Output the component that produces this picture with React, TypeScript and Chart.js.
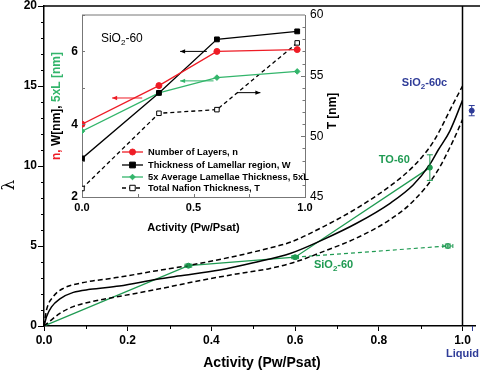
import React, { useEffect, useRef } from "react";
import { Chart, registerables } from "chart.js";

Chart.register(...registerables);

const FONT = "'Liberation Sans', Arial, Helvetica, sans-serif";

// ---------------- main chart: λ vs activity ----------------
const ACT_MEAN = [0, 0.006, 0.018, 0.038, 0.07, 0.11, 0.18, 0.27, 0.32, 0.42, 0.5, 0.59, 0.667, 0.747, 0.827, 0.882, 0.922, 0.942, 0.97, 1.0];
const LAMBDA_MEAN = [0, 0.58, 1.2, 1.7, 2.1, 2.29, 2.5, 2.92, 3.12, 3.5, 3.95, 4.55, 5.4, 6.42, 7.67, 8.81, 10.1, 11.0, 12.2, 14.1];

const ACT_UPPER = [0, 0.006, 0.022, 0.046, 0.086, 0.18, 0.27, 0.32, 0.38, 0.46, 0.54, 0.59, 0.667, 0.747, 0.827, 0.882, 0.93, 0.978, 1.0];
const LAMBDA_UPPER = [0, 1.0, 1.83, 2.35, 2.67, 3.05, 3.46, 3.67, 3.95, 4.38, 4.88, 5.25, 6.2, 7.35, 8.75, 9.96, 11.5, 13.9, 15.0];

const ACT_LOWER = [0, 0.014, 0.038, 0.07, 0.11, 0.19, 0.27, 0.32, 0.38, 0.46, 0.54, 0.6, 0.667, 0.747, 0.827, 0.882, 0.938, 0.978, 1.0];
const LAMBDA_LOWER = [0, 0.3, 0.79, 1.21, 1.5, 1.9, 2.29, 2.56, 2.875, 3.25, 3.6, 4.0, 4.65, 5.5, 6.65, 7.8, 9.6, 11.6, 12.9];

const ACT_SIO2_60 = [0, 0.345, 0.6, 0.922];
const LAMBDA_SIO2_60 = [0, 3.77, 4.3, 9.9];
const ACT_SIO2_60_DASH = [0.6, 0.965];
const LAMBDA_SIO2_60_DASH = [4.3, 5.0];
const ACT_SIO2_60C = [1.022];
const LAMBDA_SIO2_60C = [13.46];
const LIQUID_LINE_X = [1.0, 1.0];
const LIQUID_LINE_Y = [0, 20];

const ERR_X = [0.345, 0.6, 0.965, 0.922, 1.022];
const ERR_Y = [3.77, 4.3, 5.0, 9.9, 13.46];
const ERR_DX = [0.008, 0.008, 0.012, 0.004, 0];
const ERR_DY = [0.1, 0.1, 0.12, 0.8, 0.32];

const MAIN_X_TICKS = [0, 0.2, 0.4, 0.6, 0.8, 1.0];
const MAIN_Y_TICKS = [0, 5, 10, 15, 20];

// ---------------- inset: structure vs activity ----------------
const INSET_ACT = [0, 0.345, 0.605, 0.965];
const LAYERS_N = [4.0, 5.06, 6.0, 6.05];
const LAMELLAR_W = [3.06, 4.86, 6.33, 6.55];
const LAMELLAE_5XL = [3.81, 4.86, 5.28, 5.45];
const NAFION_T = [45.7, 51.9, 52.2, 57.7];
const INSET_X_TICKS = [0, 0.5, 1.0];
const INSET_Y_TICKS = [2, 4, 6];
const INSET_Y2_TICKS = [45, 50, 55, 60];

const GREEN = "#1f9a52";
const LGREEN = "#33b56b";
const BLUE = "#2f3c98";
const RED = "#ee1c25";

// pixel where activity 1.0 should sit in the 480px-wide main plot
const ONE_PX = 462.5;

const pts = (xs: number[], ys: number[]) => xs.map((x, i) => ({ x, y: ys[i] }));

function seg(ctx: CanvasRenderingContext2D, x0: number, y0: number, x1: number, y1: number) {
  ctx.beginPath();
  ctx.moveTo(x0, y0);
  ctx.lineTo(x1, y1);
  ctx.stroke();
}

function drawParts(ctx: CanvasRenderingContext2D, parts: [string, boolean][], x: number, y: number, size: number, weight: string, color: string) {
  let cx = x;
  ctx.fillStyle = color;
  ctx.textAlign = "left";
  ctx.textBaseline = "alphabetic";
  for (const [t, sub] of parts) {
    ctx.font = `${weight} ${sub ? Math.round(size * 0.7) : size}px ${FONT}`;
    ctx.fillText(t, cx, sub ? y + size * 0.28 : y);
    cx += ctx.measureText(t).width;
  }
}

const noPad = (s: any) => {
  s.paddingLeft = 0;
  s.paddingRight = 0;
  s.paddingTop = 0;
  s.paddingBottom = 0;
};

const mainDecor = {
  id: "mainDecor",
  afterDraw(chart: any) {
    const { ctx, chartArea: ca, scales } = chart;
    const x = scales.x;
    const y = scales.y;
    ctx.save();
    ctx.strokeStyle = "#000";
    ctx.lineWidth = 1.5;
    seg(ctx, ca.left, ca.top, 480, ca.top);
    ctx.lineWidth = 1;
    for (let v = 1; v < 20; v++) {
      if (v % 5 === 0) continue;
      const py = Math.round(y.getPixelForValue(v)) + 0.5;
      seg(ctx, ca.left - 3, py, ca.left, py);
    }
    for (let k = 1; k < 10; k += 2) {
      const px = Math.round(x.getPixelForValue(k / 10)) + 0.5;
      seg(ctx, px, ca.bottom, px, ca.bottom + 3);
    }
    ctx.strokeStyle = BLUE;
    const lx = Math.round(x.getPixelForValue(ACT_SIO2_60C[0])) + 0.5;
    seg(ctx, lx, ca.bottom, lx, ca.bottom + 5);

    // error bars
    ctx.lineWidth = 1;
    for (let i = 0; i < ERR_X.length; i++) {
      ctx.strokeStyle = i === 4 ? BLUE : GREEN;
      const px = x.getPixelForValue(ERR_X[i]);
      const py = y.getPixelForValue(ERR_Y[i]);
      const y0 = y.getPixelForValue(ERR_Y[i] - ERR_DY[i]);
      const y1 = y.getPixelForValue(ERR_Y[i] + ERR_DY[i]);
      seg(ctx, px, y0, px, y1);
      seg(ctx, px - 3, y0, px + 3, y0);
      seg(ctx, px - 3, y1, px + 3, y1);
      if (ERR_DX[i] > 0) {
        const x0 = x.getPixelForValue(ERR_X[i] - ERR_DX[i]);
        const x1 = x.getPixelForValue(ERR_X[i] + ERR_DX[i]);
        seg(ctx, x0, py, x1, py);
        seg(ctx, x0, py - 2, x0, py + 2);
        seg(ctx, x1, py - 2, x1, py + 2);
      }
    }

    // text labels
    drawParts(ctx, [["SiO", false], ["2", true], ["-60c", false]], x.getPixelForValue(0.855), y.getPixelForValue(15.0), 11, "bold", BLUE);
    drawParts(ctx, [["TO-60", false]], x.getPixelForValue(0.8), y.getPixelForValue(10.19), 11, "bold", GREEN);
    drawParts(ctx, [["SiO", false], ["2", true], ["-60", false]], x.getPixelForValue(0.645), y.getPixelForValue(3.62), 11, "bold", GREEN);

    ctx.fillStyle = BLUE;
    ctx.font = `bold 11px ${FONT}`;
    ctx.textAlign = "center";
    ctx.textBaseline = "middle";
    ctx.fillText("Liquid", x.getPixelForValue(1.0), 354);

    ctx.fillStyle = "#000";
    ctx.font = `bold 14px ${FONT}`;
    ctx.fillText("Activity (Pw/Psat)", (ca.left + 480) / 2, 363);

    ctx.save();
    ctx.translate(10, 185);
    ctx.rotate(-Math.PI / 2);
    ctx.font = `17px 'DejaVu Serif', serif`;
    ctx.fillText("λ", 0, 0);
    ctx.restore();
    ctx.restore();
  },
};

function drawMarker(ctx: CanvasRenderingContext2D, style: string, cx: number, cy: number, r: number, fill: string, stroke: string) {
  ctx.fillStyle = fill;
  ctx.strokeStyle = stroke;
  ctx.lineWidth = 1;
  ctx.setLineDash([]);
  ctx.beginPath();
  if (style === "circle") ctx.arc(cx, cy, r, 0, Math.PI * 2);
  else if (style === "rectRot") {
    ctx.moveTo(cx, cy - r);
    ctx.lineTo(cx + r, cy);
    ctx.lineTo(cx, cy + r);
    ctx.lineTo(cx - r, cy);
    ctx.closePath();
  } else {
    const h = r * 0.85;
    ctx.rect(cx - h, cy - h, 2 * h, 2 * h);
  }
  ctx.fill();
  ctx.stroke();
}

function arrow(ctx: CanvasRenderingContext2D, x0: number, y0: number, x1: number, y1: number, color: string) {
  ctx.strokeStyle = color;
  ctx.fillStyle = color;
  ctx.lineWidth = 1;
  seg(ctx, x0, y0, x1, y1);
  const dir = Math.sign(x1 - x0);
  ctx.beginPath();
  ctx.moveTo(x1, y1);
  ctx.lineTo(x1 - dir * 5, y1 - 2.2);
  ctx.lineTo(x1 - dir * 5, y1 + 2.2);
  ctx.closePath();
  ctx.fill();
}

const insetDecor = {
  id: "insetDecor",
  afterDraw(chart: any) {
    const { ctx, chartArea: ca, scales } = chart;
    const x = scales.x;
    const y = scales.y;
    const y2 = scales.y2;
    ctx.save();
    ctx.strokeStyle = "#777";
    ctx.lineWidth = 1;
    seg(ctx, ca.left, ca.top, ca.right, ca.top);
    for (const v of [0.25, 0.5, 0.75]) {
      const px = Math.round(x.getPixelForValue(v)) + 0.5;
      seg(ctx, px, ca.bottom, px, ca.bottom - 3);
    }
    for (const v of [3, 4, 5, 6, 7]) {
      const py = Math.round(y.getPixelForValue(v)) + 0.5;
      seg(ctx, ca.left, py, ca.left + 3, py);
    }
    for (let v = 46; v < 60; v++) {
      const py = Math.round(y2.getPixelForValue(v)) + 0.5;
      seg(ctx, ca.right, py, ca.right - (v % 5 === 0 ? 4 : 2.5), py);
    }

    // arrows
    arrow(ctx, x.getPixelForValue(0.27), y.getPixelForValue(4.72), x.getPixelForValue(0.135), y.getPixelForValue(4.72), RED);
    arrow(ctx, x.getPixelForValue(0.56), y.getPixelForValue(6.0), x.getPixelForValue(0.44), y.getPixelForValue(6.0), "#000");
    arrow(ctx, x.getPixelForValue(0.59), y.getPixelForValue(5.19), x.getPixelForValue(0.44), y.getPixelForValue(5.19), LGREEN);
    arrow(ctx, x.getPixelForValue(0.695), y2.getPixelForValue(53.6), x.getPixelForValue(0.8), y2.getPixelForValue(53.6), "#000");

    // legend
    const rows = [137, 150, 162, 173];
    chart.data.datasets.forEach((ds: any, i: number) => {
      const ly = ca.top + rows[i];
      const lx0 = ca.left + 40;
      const lx1 = ca.left + 61;
      ctx.strokeStyle = ds.borderColor;
      ctx.lineWidth = ds.borderWidth;
      ctx.setLineDash(ds.borderDash || []);
      seg(ctx, lx0, ly, lx1, ly);
      drawMarker(ctx, ds.pointStyle, (lx0 + lx1) / 2, ly, ds.pointRadius, ds.pointBackgroundColor, ds.pointBorderColor);
      ctx.fillStyle = "#000";
      ctx.font = `bold 9.3px ${FONT}`;
      ctx.textAlign = "left";
      ctx.textBaseline = "middle";
      ctx.fillText(ds.label, ca.left + 66, ly + 0.5);
    });

    // title
    drawParts(ctx, [["SiO", false], ["2", true], ["-60", false]], x.getPixelForValue(0.085), y.getPixelForValue(6.26), 12, "normal", "#000");

    // axis titles
    ctx.fillStyle = "#000";
    ctx.font = `bold 11px ${FONT}`;
    ctx.textAlign = "center";
    ctx.textBaseline = "middle";
    ctx.fillText("Activity (Pw/Psat)", (ca.left + ca.right) / 2, ca.bottom + 31);

    ctx.save();
    ctx.translate(17, (ca.top + ca.bottom) / 2);
    ctx.rotate(-Math.PI / 2);
    ctx.font = `bold 12px ${FONT}`;
    const parts: [string, string][] = [["n, ", RED], ["W[nm], ", "#000"], ["5xL [nm]", LGREEN]];
    const total = parts.reduce((s, p) => s + ctx.measureText(p[0]).width, 0);
    let cx = -total / 2;
    ctx.textAlign = "left";
    for (const [t, c] of parts) {
      ctx.fillStyle = c;
      ctx.fillText(t, cx, 0);
      cx += ctx.measureText(t).width;
    }
    ctx.restore();

    ctx.save();
    ctx.translate(293, 111);
    ctx.rotate(-Math.PI / 2);
    ctx.fillStyle = "#000";
    ctx.font = `bold 12px ${FONT}`;
    ctx.fillText("T [nm]", 0, 0);
    ctx.restore();
    ctx.restore();
  },
};

function mainConfig(): any {
  const curve = (xs: number[], ys: number[], dash: number[]) => ({
    data: pts(xs, ys),
    borderColor: "#000",
    borderWidth: 1.5,
    borderDash: dash,
    pointRadius: 0,
    cubicInterpolationMode: "monotone",
    fill: false,
  });
  return {
    type: "line",
    data: {
      datasets: [
        curve(ACT_UPPER, LAMBDA_UPPER, [5, 3]),
        curve(ACT_LOWER, LAMBDA_LOWER, [5, 3]),
        curve(ACT_MEAN, LAMBDA_MEAN, []),
        {
          data: pts(LIQUID_LINE_X, LIQUID_LINE_Y),
          borderColor: "#000",
          borderWidth: 1.5,
          pointRadius: 0,
        },
        {
          data: pts(ACT_SIO2_60_DASH, LAMBDA_SIO2_60_DASH),
          borderColor: GREEN,
          borderWidth: 1.2,
          borderDash: [4, 3],
          pointRadius: [0, 2.5],
          pointBackgroundColor: "#fff",
          pointBorderColor: GREEN,
          pointBorderWidth: 1,
        },
        {
          data: pts(ACT_SIO2_60, LAMBDA_SIO2_60),
          borderColor: GREEN,
          borderWidth: 1.3,
          pointRadius: [0, 2.5, 2.5, 2.5],
          pointBackgroundColor: GREEN,
          pointBorderColor: GREEN,
          pointBorderWidth: 1,
        },
        {
          data: pts(ACT_SIO2_60C, LAMBDA_SIO2_60C),
          showLine: false,
          pointRadius: 2.5,
          pointBackgroundColor: BLUE,
          pointBorderColor: BLUE,
        },
      ],
    },
    options: {
      responsive: false,
      animation: false,
      layout: { padding: { top: 6, right: 0, left: 0, bottom: 0 } },
      plugins: { legend: { display: false }, tooltip: { enabled: false } },
      scales: {
        x: {
          type: "linear",
          min: 0,
          max: 1.0418,
          afterBuildTicks: (s: any) => {
            s.ticks = MAIN_X_TICKS.map((value) => ({ value }));
          },
          afterFit: (s: any) => {
            s.height = 44;
            noPad(s);
          },
          ticks: {
            callback: (v: any) => Number(v).toFixed(1),
            font: { family: FONT, size: 12, weight: "bold", lineHeight: 1 },
            color: "#000",
            padding: 4,
            maxRotation: 0,
            autoSkip: false,
          },
          grid: { display: true, drawOnChartArea: false, drawTicks: true, tickLength: 5, tickColor: "#000", tickWidth: 1 },
          border: { display: true, color: "#000", width: 1.5 },
        },
        y: {
          min: 0,
          max: 20,
          afterBuildTicks: (s: any) => {
            s.ticks = MAIN_Y_TICKS.map((value) => ({ value }));
          },
          afterFit: (s: any) => {
            s.width = 44;
            noPad(s);
          },
          ticks: {
            font: { family: FONT, size: 12, weight: "bold", lineHeight: 1 },
            color: "#000",
            padding: 1,
            autoSkip: false,
          },
          grid: { display: true, drawOnChartArea: false, drawTicks: true, tickLength: 6, tickColor: "#000", tickWidth: 1 },
          border: { display: true, color: "#000", width: 1.5 },
        },
      },
    },
    plugins: [mainDecor],
  };
}

function insetConfig(): any {
  const ser = (label: string, ys: number[], color: string, style: string, r: number, extra: any = {}) => ({
    label,
    data: pts(INSET_ACT, ys),
    borderColor: color,
    borderWidth: 1.3,
    pointStyle: style,
    pointRadius: r,
    pointBackgroundColor: color,
    pointBorderColor: color,
    pointBorderWidth: 1,
    yAxisID: "y",
    ...extra,
  });
  return {
    type: "line",
    data: {
      datasets: [
        ser("Number of Layers, n", LAYERS_N, RED, "circle", 3),
        ser("Thickness of Lamellar region, W", LAMELLAR_W, "#000", "rect", 3.4),
        ser("5x Average Lamellae Thickness, 5xL", LAMELLAE_5XL, LGREEN, "rectRot", 2.8),
        ser("Total Nafion Thickness, T", NAFION_T, "#000", "rect", 3.2, {
          borderDash: [4, 3],
          pointBackgroundColor: "#fff",
          yAxisID: "y2",
        }),
      ],
    },
    options: {
      responsive: false,
      animation: false,
      layout: { padding: { top: 15, right: 0, left: 0, bottom: 0 } },
      plugins: { legend: { display: false }, tooltip: { enabled: false } },
      scales: {
        x: {
          type: "linear",
          min: 0,
          max: 1,
          afterBuildTicks: (s: any) => {
            s.ticks = INSET_X_TICKS.map((value) => ({ value }));
          },
          afterFit: (s: any) => {
            s.height = 48;
            noPad(s);
          },
          ticks: {
            callback: (v: any) => Number(v).toFixed(1),
            font: { family: FONT, size: 11, weight: "bold", lineHeight: 1 },
            color: "#000",
            padding: 5,
            maxRotation: 0,
            autoSkip: false,
          },
          grid: { display: false, drawTicks: false },
          border: { display: true, color: "#777", width: 1 },
        },
        y: {
          position: "left",
          min: 2,
          max: 7,
          afterBuildTicks: (s: any) => {
            s.ticks = INSET_Y_TICKS.map((value) => ({ value }));
          },
          afterFit: (s: any) => {
            s.width = 42;
            noPad(s);
          },
          ticks: {
            font: { family: FONT, size: 12, weight: "bold", lineHeight: 1 },
            color: "#000",
            padding: 4,
            autoSkip: false,
          },
          grid: { display: false, drawTicks: false },
          border: { display: true, color: "#777", width: 1 },
        },
        y2: {
          position: "right",
          min: 45,
          max: 60,
          afterBuildTicks: (s: any) => {
            s.ticks = INSET_Y2_TICKS.map((value) => ({ value }));
          },
          afterFit: (s: any) => {
            s.width = 45;
            noPad(s);
          },
          ticks: {
            font: { family: FONT, size: 12, weight: "normal", lineHeight: 1 },
            color: "#000",
            padding: 5,
            autoSkip: false,
          },
          grid: { display: false, drawTicks: false },
          border: { display: true, color: "#777", width: 1 },
        },
      },
    },
    plugins: [insetDecor],
  };
}

export default function App() {
  const mainRef = useRef<HTMLCanvasElement>(null);
  const insetRef = useRef<HTMLCanvasElement>(null);
  useEffect(() => {
    const main: any = new Chart(mainRef.current as HTMLCanvasElement, mainConfig());
    // calibrate the axis range so that activity 1.0 lands where the reference puts it
    const xs = main.scales.x;
    const left = xs.getPixelForValue(0);
    const right = main.chartArea.right;
    main.options.scales.x.max = (right - left) / (ONE_PX - left);
    main.update();
    const inset = new Chart(insetRef.current as HTMLCanvasElement, insetConfig());
    return () => {
      main.destroy();
      inset.destroy();
    };
  }, []);
  return (
    <div style={{ position: "absolute", left: 0, top: 0, width: 480, height: 370, background: "#fff", overflow: "hidden" }}>
      <canvas ref={mainRef} width={480} height={370} style={{ position: "absolute", left: 0, top: 0 }} />
      <canvas ref={insetRef} width={310} height={245} style={{ position: "absolute", left: 40, top: 0 }} />
    </div>
  );
}
